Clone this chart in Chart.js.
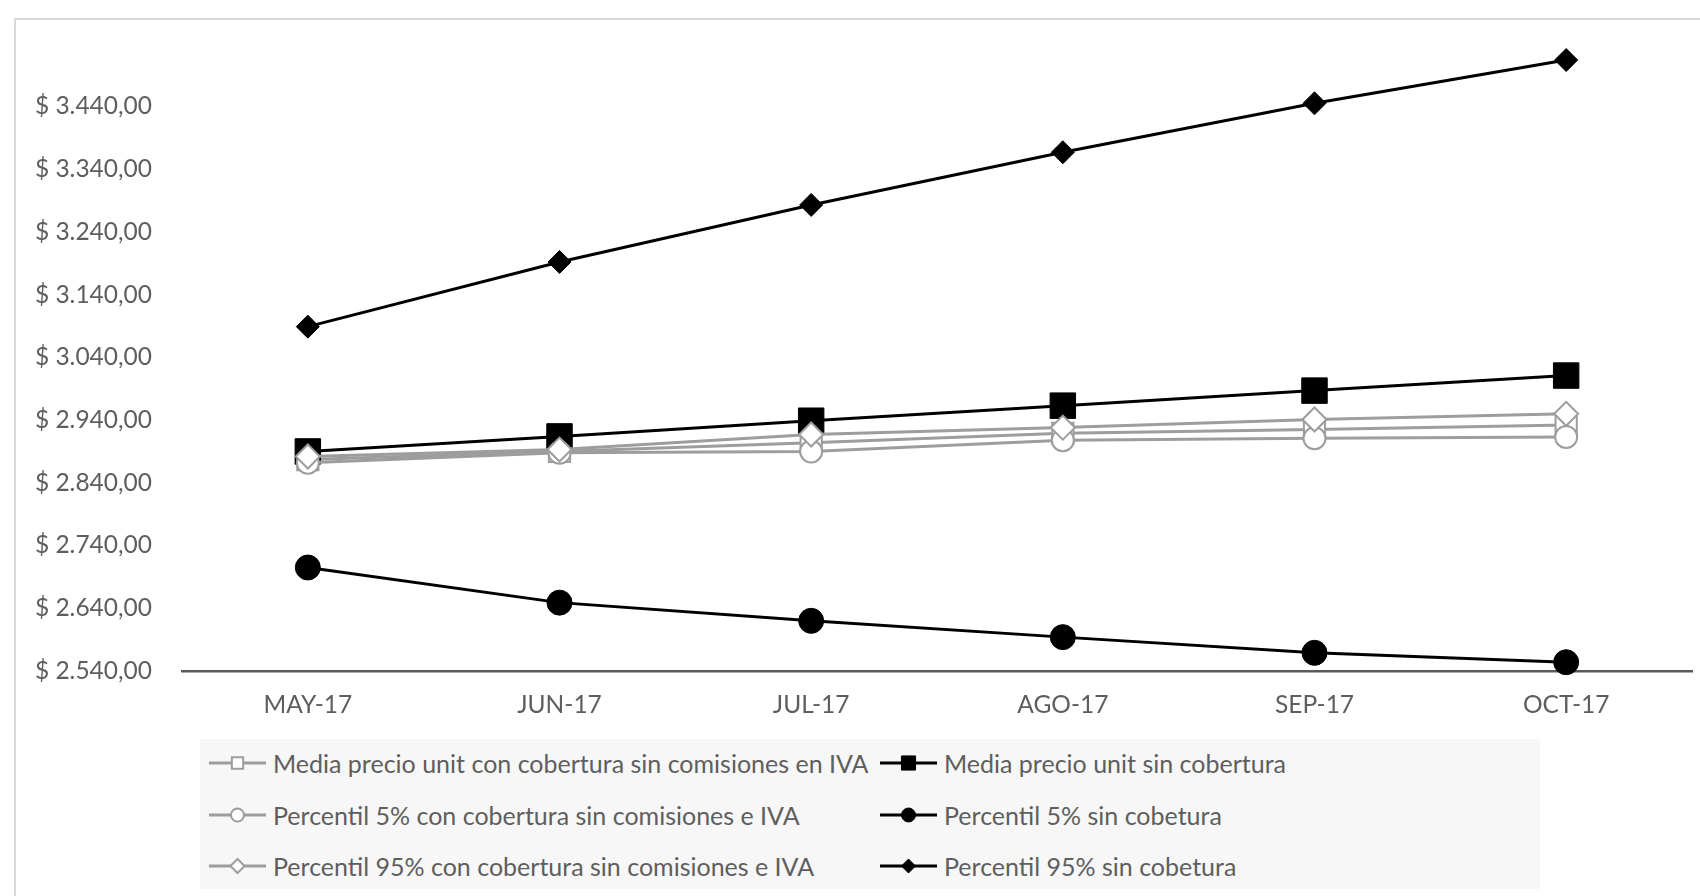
<!DOCTYPE html>
<html>
<head>
<meta charset="utf-8">
<script src="https://cdn.jsdelivr.net/npm/chart.js@4.4.1/dist/chart.umd.min.js"></script>
<style>
  html, body { margin: 0; padding: 0; background: #ffffff; overflow: hidden; }
  #wrap { position: relative; width: 1700px; height: 896px; }
  #frame { position: absolute; left: 14px; top: 18px; width: 1720px; height: 900px;
           border-left: 2px solid #d9d9d9; border-top: 2px solid #d9d9d9; box-sizing: border-box; }
  #chart { position: absolute; left: 0; top: 0; }
  #legend { position: absolute; left: 200px; top: 739px; width: 1340px; height: 150px;
            background: #f7f7f7; font-family: Lato, sans-serif; font-size: 25px; color: #5e5e5e; }
  .item { position: absolute; height: 40px; display: flex; align-items: center; white-space: nowrap; }
  .item canvas { display: block; margin-right: 7px; }
</style>
</head>
<body>
<div id="wrap">
  <div id="frame"></div>
  <canvas id="chart" width="1700" height="896"></canvas>
  <div id="legend"></div>
</div>
<script>
// ---- data ----
const categories = ['MAY-17', 'JUN-17', 'JUL-17', 'AGO-17', 'SEP-17', 'OCT-17'];
const mediaCon = [2877, 2890, 2904, 2919, 2925, 2932];
const mediaSin = [2890, 2914, 2939, 2963, 2987, 3011];
const p5Con    = [2872, 2888, 2890, 2908, 2911, 2913];
const p5Sin    = [2705, 2649, 2620, 2594, 2569, 2554];
const p95Con   = [2882, 2893, 2917, 2928, 2941, 2950];
const p95Sin   = [3089, 3192, 3283, 3367, 3445, 3514];
const seriesNames = [
  'Media precio unit con cobertura sin comisiones en IVA',
  'Media precio unit sin cobertura',
  'Percentil 5% con cobertura sin comisiones e IVA',
  'Percentil 5% sin cobetura',
  'Percentil 95% con cobertura sin comisiones e IVA',
  'Percentil 95% sin cobetura'
];
const yTickValues = [2540, 2640, 2740, 2840, 2940, 3040, 3140, 3240, 3340, 3440];
const yTickLabels = ['$ 2.540,00', '$ 2.640,00', '$ 2.740,00', '$ 2.840,00', '$ 2.940,00',
                     '$ 3.040,00', '$ 3.140,00', '$ 3.240,00', '$ 3.340,00', '$ 3.440,00'];

// ---- styles ----
const GRAY = '#9d9d9d';
const BLACK = '#000000';
const styles = [
  { color: GRAY,  fill: '#ffffff', pointStyle: 'rect',    radius: 15,   lw: 3, bw: 2, lgR: 8 },
  { color: BLACK, fill: BLACK,     pointStyle: 'rect',    radius: 18,   lw: 3, bw: 1, lgR: 10 },
  { color: GRAY,  fill: '#ffffff', pointStyle: 'circle',  radius: 11,   lw: 3, bw: 2, lgR: 6.5 },
  { color: BLACK, fill: BLACK,     pointStyle: 'circle',  radius: 12.5, lw: 3, bw: 1, lgR: 7 },
  { color: GRAY,  fill: '#ffffff', pointStyle: 'rectRot', radius: 12,   lw: 3, bw: 2, lgR: 7 },
  { color: BLACK, fill: BLACK,     pointStyle: 'rectRot', radius: 11.5, lw: 3, bw: 1, lgR: 7 }
];
const seriesData = [mediaCon, mediaSin, p5Con, p5Sin, p95Con, p95Sin];

const datasets = seriesData.map((d, i) => ({
  label: seriesNames[i],
  data: d,
  borderColor: styles[i].color,
  backgroundColor: styles[i].fill,
  borderWidth: styles[i].lw,
  pointStyle: styles[i].pointStyle,
  pointRadius: styles[i].radius,
  pointHoverRadius: styles[i].radius,
  pointBackgroundColor: styles[i].fill,
  pointBorderColor: styles[i].color,
  pointBorderWidth: styles[i].bw,
  tension: 0,
  fill: false,
  clip: false,
  order: 10 - i
}));

const FONT = { family: 'Lato, sans-serif', size: 24.5 };

const chart = new Chart(document.getElementById('chart'), {
  type: 'line',
  data: { labels: categories, datasets },
  options: {
    responsive: false,
    animation: false,
    devicePixelRatio: 1,
    layout: { autoPadding: false, padding: { left: 0, top: 50, right: 8, bottom: 165 } },
    plugins: { legend: { display: false }, tooltip: { enabled: false } },
    scales: {
      x: {
        offset: true,
        grid: { display: false, drawTicks: false },
        border: { display: true, color: '#5a5a5a', width: 2.5 },
        ticks: { color: '#5e5e5e', font: FONT, padding: 19, maxRotation: 0, autoSkip: false },
        afterFit: (s) => { s.height = 60; s.paddingLeft = 0; s.paddingRight = 0; }
      },
      y: {
        min: 2540,
        max: 3530,
        grid: { display: false, drawTicks: false },
        border: { display: false },
        afterBuildTicks: (s) => { s.ticks = yTickValues.map(v => ({ value: v })); },
        ticks: {
          color: '#5e5e5e', font: FONT, padding: 30, autoSkip: false,
          callback: (v, i) => yTickLabels[i]
        },
        afterFit: (s) => { s.width = 182; }
      }
    }
  }
});

// ---- HTML legend built from the chart datasets ----
const legend = document.getElementById('legend');
const colX = [9, 680];
const rowY = [4, 56, 107];
chart.data.datasets.forEach((ds, i) => {
  const st = styles[i];
  const item = document.createElement('div');
  item.className = 'item';
  item.style.left = colX[i % 2] + 'px';
  item.style.top = rowY[Math.floor(i / 2)] + 'px';
  const c = document.createElement('canvas');
  c.width = 57; c.height = 30;
  const ctx = c.getContext('2d');
  ctx.strokeStyle = st.color;
  ctx.lineWidth = 3;
  ctx.beginPath(); ctx.moveTo(0, 15); ctx.lineTo(57, 15); ctx.stroke();
  ctx.fillStyle = st.fill;
  ctx.strokeStyle = st.color;
  ctx.lineWidth = st.bw;
  Chart.helpers.drawPoint(ctx, { pointStyle: st.pointStyle, radius: st.lgR, rotation: 0, borderWidth: st.bw }, 28.5, 15);
  item.appendChild(c);
  const t = document.createElement('span');
  t.textContent = ds.label;
  item.appendChild(t);
  legend.appendChild(item);
});
</script>
</body>
</html>
